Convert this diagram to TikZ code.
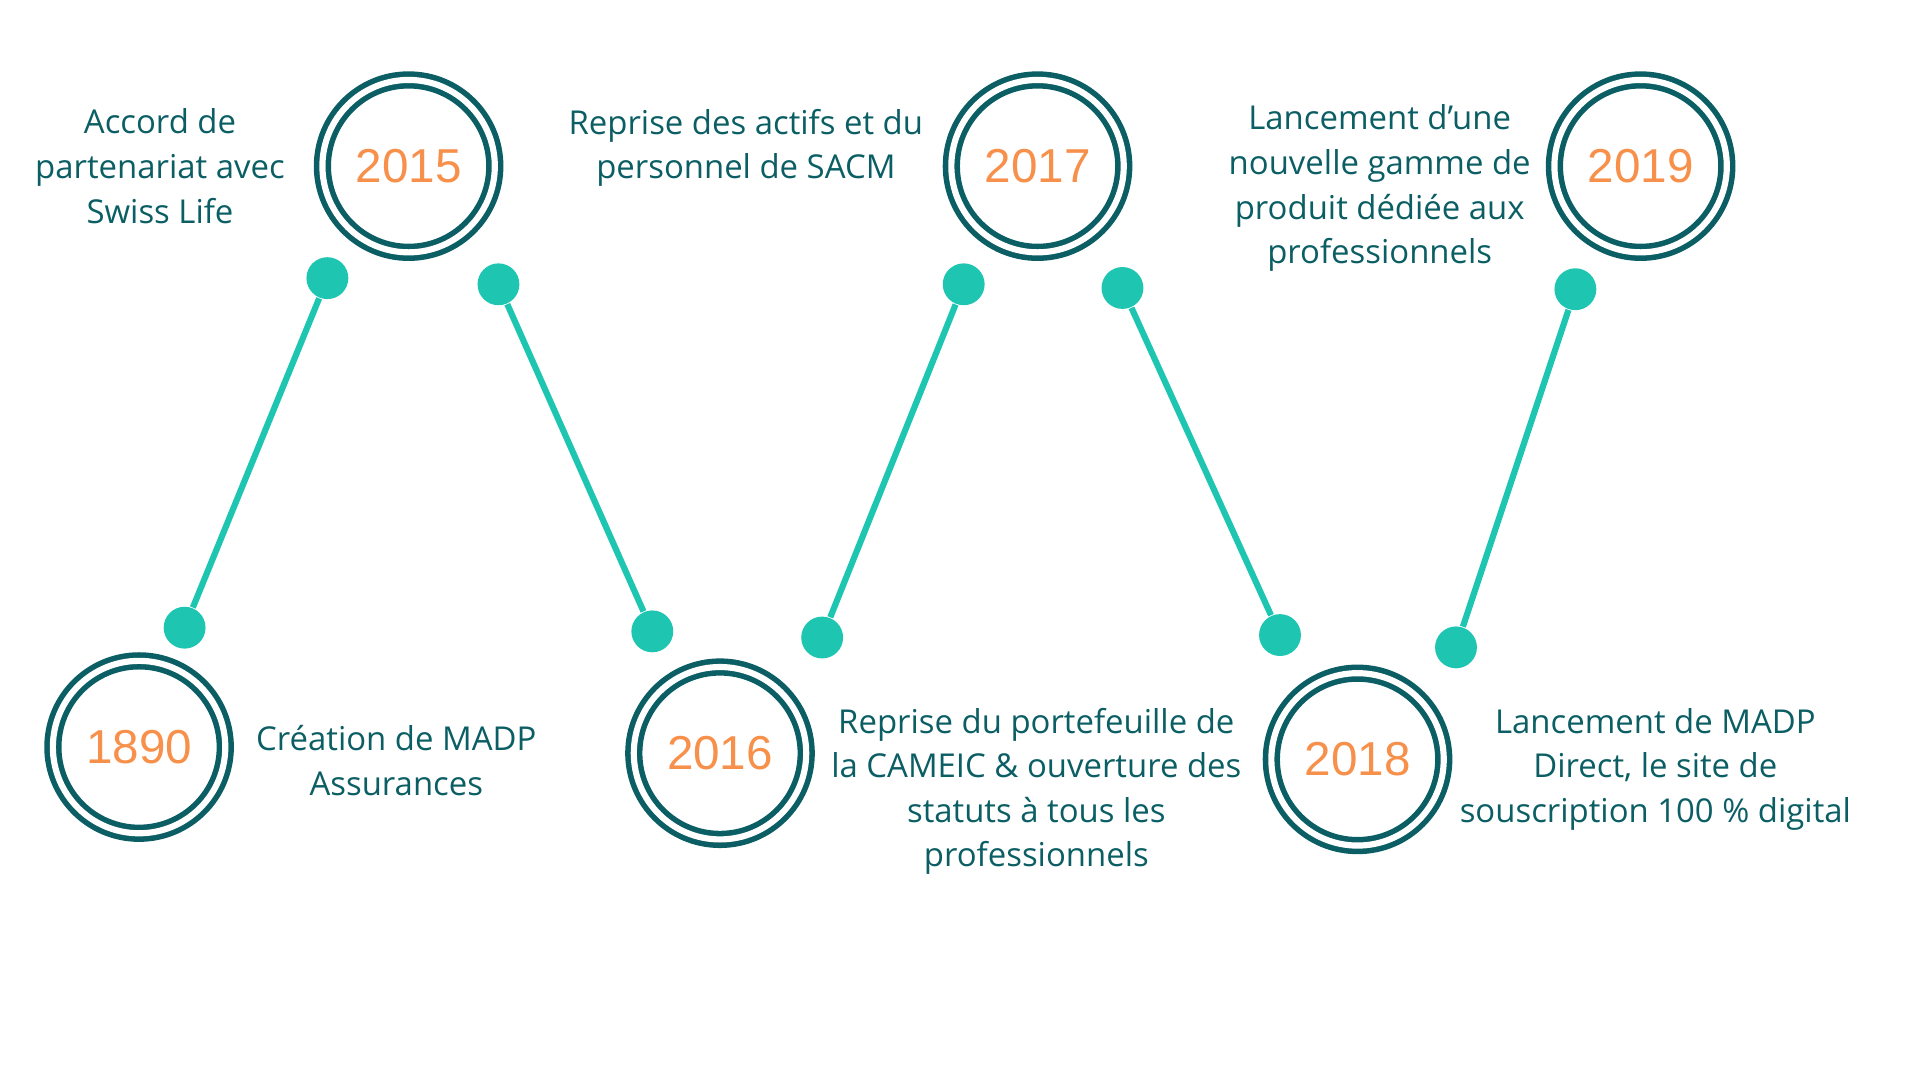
\documentclass[tikz,border=0pt]{standalone}
\usepackage{fontspec}
\setmainfont{Open Sans}
\newfontfamily\yearfont{Liberation Sans}
\begin{document}
\begin{tikzpicture}[x=0.01cm,y=-0.01cm]
\definecolor{darkteal}{HTML}{0B5E63}
\definecolor{lightteal}{HTML}{1EC6B2}
\definecolor{yearorange}{HTML}{F7904A}
\tikzset{
    yearring/.style={circle,draw=darkteal,line width=0.045cm,double=white,double distance=0.05cm,
        minimum size=1.4cm,inner sep=0pt,text=yearorange,font=\yearfont\fontsize{11pt}{11pt}\selectfont},
    eventtext/.style={align=center,text=darkteal,font=\fontsize{7.6pt}{10.3pt}\selectfont},
    pin/.style={circle,fill=lightteal,minimum size=0.34cm,inner sep=0pt},
    link/.style={draw=lightteal,line width=0.05cm}
}
\useasboundingbox (0,0) rectangle (1560,880);

% Draw the year circles
\node[yearring] (y1890) at (113,607) {1890};
\node[yearring] (y2015) at (332,135) {2015};
\node[yearring] (y2016) at (585,612) {2016};
\node[yearring] (y2017) at (843,135) {2017};
\node[yearring] (y2018) at (1103,617) {2018};
\node[yearring] (y2019) at (1333,135) {2019};

% Draw the texts
\node[eventtext] (t1890) at (322,618) {Création de MADP\\Assurances};
\node[eventtext] (t2015) at (130,135) {Accord de\\partenariat avec\\Swiss Life};
\node[eventtext] (t2016) at (842,643) {Reprise du portefeuille de\\la CAMEIC \& ouverture des\\statuts à tous les\\professionnels};
\node[eventtext] (t2017) at (606,120) {Reprise des actifs et du\\personnel de SACM};
\node[eventtext] (t2018) at (1345,625) {Lancement de MADP\\Direct, le site de\\souscription 100~\% digital};
\node[eventtext] (t2019) at (1121,153) {Lancement d’une\\nouvelle gamme de\\produit dédiée aux\\professionnels};

% Draw the pins and the links
\foreach \n/\a/\b/\c/\d in {a/266/226/150/510, b/405/231/530/513, c/783/231/668/518,
                            d/912/234/1040/516, e/1280/235/1183/526} {
    \node[pin] (\n top) at (\a,\b) {};
    \node[pin] (\n bot) at (\c,\d) {};
    \draw[link] (\n top) -- (\n bot);
}

\end{tikzpicture}
\end{document}
